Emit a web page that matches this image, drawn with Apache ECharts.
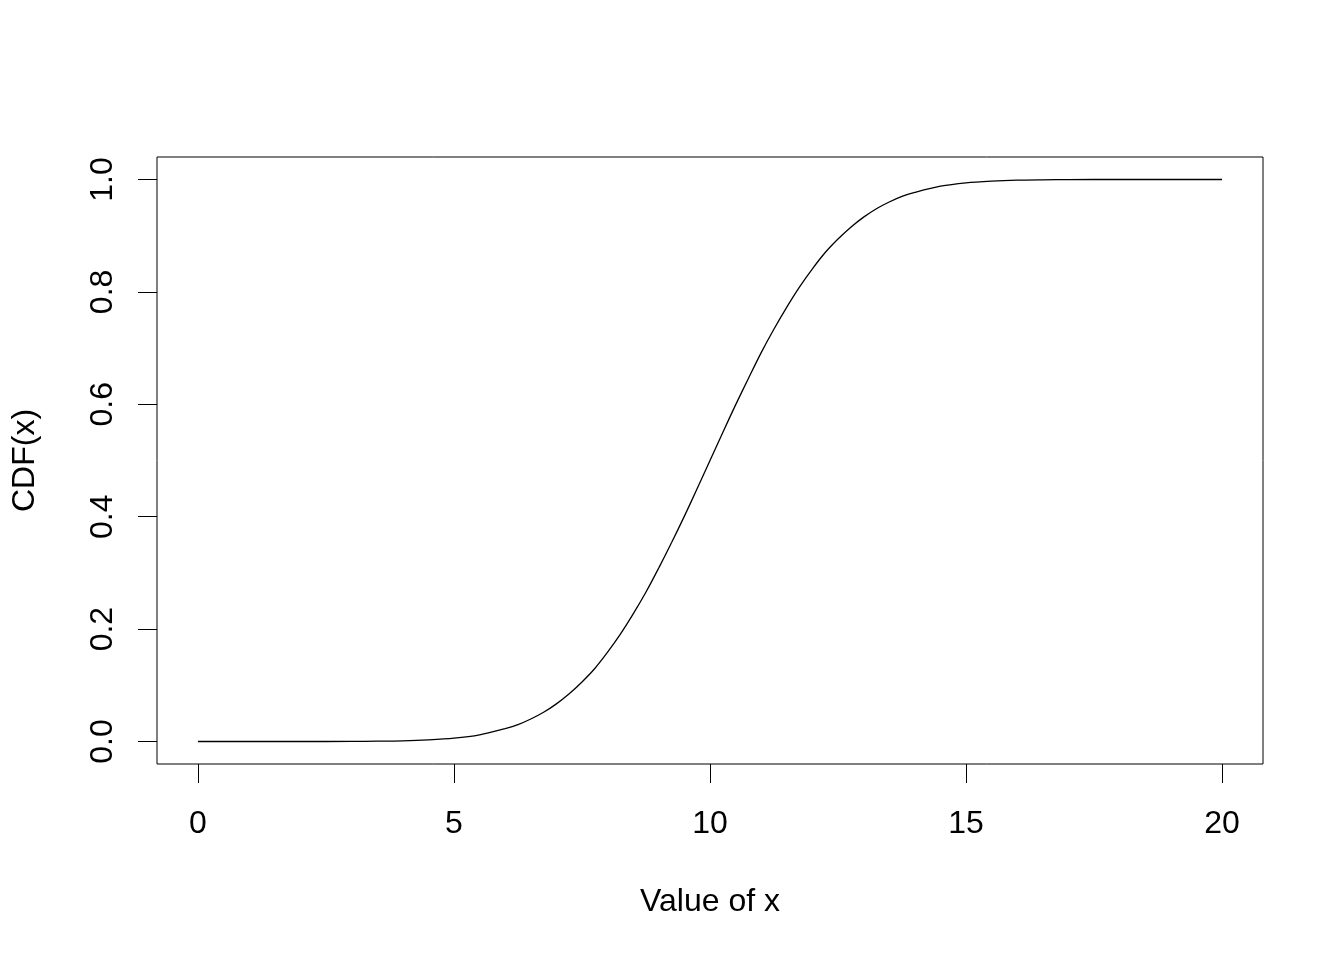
<!DOCTYPE html>
<html>
<head>
<meta charset="utf-8">
<script src="https://cdn.jsdelivr.net/npm/echarts@6/dist/echarts.min.js"></script>
<style>html,body{margin:0;padding:0;background:#fff}#c{width:1344px;height:960px}</style>
</head>
<body>
<div id="c"></div>
<script>
const xValues = [0, 1, 2, 3, 3.5, 4, 4.5, 5, 5.5, 6, 6.25, 6.5, 6.75, 7, 7.25, 7.5, 7.75, 8, 8.25, 8.5, 8.75, 9, 9.25, 9.5, 9.75, 10,
  10.25, 10.5, 10.75, 11, 11.25, 11.5, 11.75, 12, 12.25, 12.5, 12.75, 13, 13.25, 13.5, 13.75, 14, 14.5, 15, 15.5, 16, 16.5, 17, 18, 19, 20];
const cdfValues = [0, 0, 0, 0.0002, 0.0006, 0.0013, 0.003, 0.006, 0.012, 0.023, 0.030, 0.040, 0.052, 0.067, 0.085, 0.106, 0.130, 0.159, 0.191, 0.227, 0.266, 0.309, 0.354, 0.401, 0.450, 0.500,
  0.550, 0.599, 0.646, 0.692, 0.734, 0.773, 0.809, 0.841, 0.870, 0.894, 0.915, 0.933, 0.948, 0.960, 0.970, 0.977, 0.988, 0.994, 0.997, 0.9987, 0.9994, 0.9998, 1, 1, 1];
const xTicks = [0, 5, 10, 15, 20];
const yTicks = [0, 0.2, 0.4, 0.6, 0.8, 1.0];
const xTitle = 'Value of x';
const yTitle = 'CDF(x)';

const font = 'Liberation Sans, Arial, sans-serif';
const fs = 32;
const chart = echarts.init(document.getElementById('c'), null, {renderer: 'canvas'});
chart.setOption({
  animation: false,
  backgroundColor: '#ffffff',
  grid: {left: 157, top: 157, width: 1106, height: 607, show: true, borderColor: '#000', borderWidth: 1, backgroundColor: 'transparent'},
  xAxis: {
    type: 'value', min: -0.8, max: 20.8,
    name: xTitle, nameLocation: 'middle', nameGap: 122,
    nameTextStyle: {fontFamily: font, fontSize: fs, color: '#000'},
    axisLine: {show: false, onZero: false},
    splitLine: {show: false},
    axisTick: {show: true, inside: false, length: 19, customValues: xTicks, lineStyle: {color: '#000', width: 1}},
    axisLabel: {show: true, customValues: xTicks, margin: 44, fontFamily: font, fontSize: fs, color: '#000', formatter: v => String(v)}
  },
  yAxis: {
    type: 'value', min: -0.04, max: 1.04,
    name: yTitle, nameLocation: 'middle', nameGap: 116, nameRotate: 90,
    nameTextStyle: {fontFamily: font, fontSize: fs, color: '#000'},
    axisLine: {show: false, onZero: false},
    splitLine: {show: false},
    axisTick: {show: true, inside: false, length: 19, customValues: yTicks, lineStyle: {color: '#000', width: 1}},
    axisLabel: {show: true, customValues: yTicks, rotate: 90, margin: 38, fontFamily: font, fontSize: fs, color: '#000', formatter: v => v.toFixed(1)}
  },
  series: [{
    type: 'line',
    data: xValues.map((x, i) => [x, cdfValues[i]]),
    showSymbol: false,
    smooth: 0.3,
    lineStyle: {color: '#000', width: 1.3},
    silent: true
  }]
});
</script>
</body>
</html>
